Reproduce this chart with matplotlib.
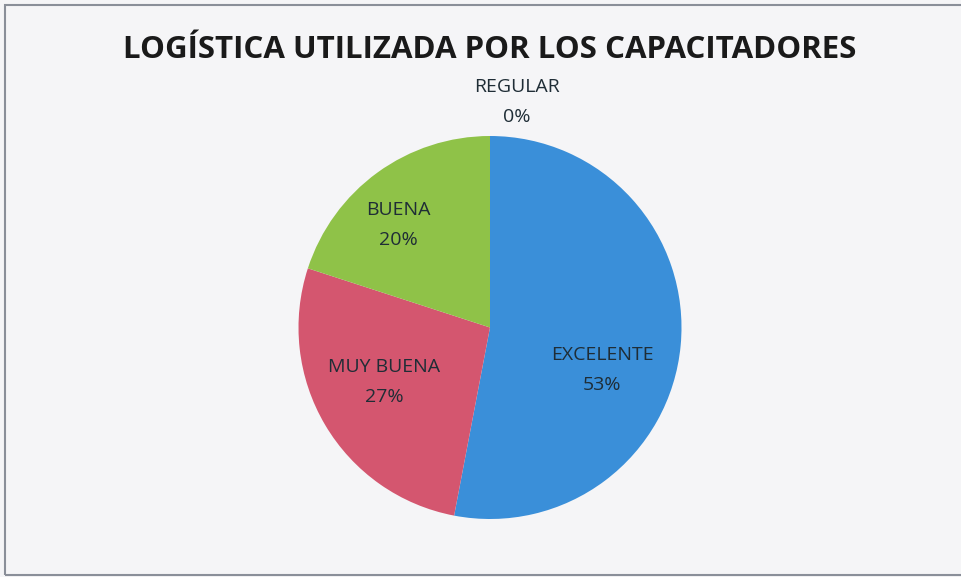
import matplotlib.pyplot as plt
from matplotlib.patches import Rectangle

# Chart data
categories = ["EXCELENTE", "MUY BUENA", "BUENA", "REGULAR"]
values = [53, 27, 20, 0]
colors = ["#3a8fd9", "#d4566f", "#8fc248", "#7f63a6"]
title = "LOGÍSTICA UTILIZADA POR LOS CAPACITADORES"

# Label anchor points (px, from top-left)
label_pos = [(602, 370), (384, 382), (398, 225), (517, 102)]

W, H = 961, 577
fig = plt.figure(figsize=(W / 100, H / 100), dpi=100)
fig.patch.set_facecolor("#f5f5f7")
ax = fig.add_axes([0, 0, 1, 1])

wedges, _ = ax.pie(values, colors=colors, startangle=90, counterclock=False,
                   center=(490, H - 327.5), radius=191.5, frame=True,
                   wedgeprops=dict(linewidth=0))
ax.set_xlim(0, W)
ax.set_ylim(0, H)
ax.set_aspect("equal")
ax.axis("off")

# Chart frame
ax.add_patch(Rectangle((5, 2), W + 10, H - 7, fill=False,
                       edgecolor="#8a8f99", linewidth=1.5))

for name, v, (x, y) in zip(categories, values, label_pos):
    ax.text(x, H - y, f"{name}\n{v}%", ha="center", va="center",
            fontsize=14, family="Open Sans", color="#1f2d36",
            linespacing=1.85)

ax.text(490, H - 50, title, ha="center", va="center", fontsize=22.5,
        family="Open Sans", fontweight="bold", color="#1a1a1a")

fig.savefig("out.png", dpi=100, facecolor=fig.get_facecolor())
